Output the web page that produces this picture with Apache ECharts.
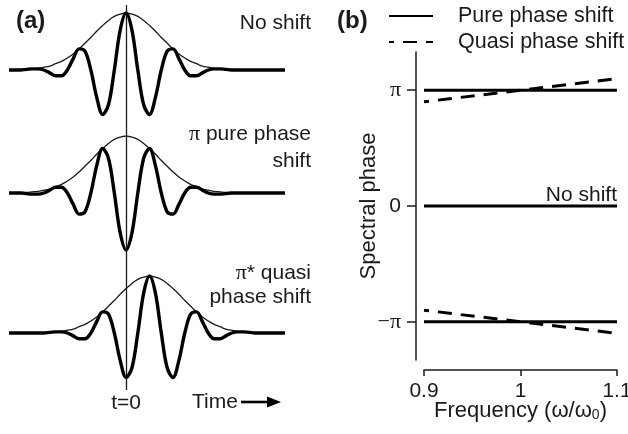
<!DOCTYPE html>
<html><head><meta charset="utf-8">
<script src="https://cdn.jsdelivr.net/npm/echarts@6/dist/echarts.min.js"></script>
<style>html,body{margin:0;padding:0;background:#fff}#c{width:628px;height:434px}</style>
</head><body><div id="c"></div>
<script>
// ---------- Panel (a): wave packets, time in optical cycles ----------
const timeCycles = [-2.5,-2.375,-2.25,-2.125,-2,-1.875,-1.75,-1.625,-1.5,-1.375,-1.25,-1.125,-1,-0.875,-0.75,-0.625,-0.5,-0.375,-0.25,-0.125,
  0,
  0.125,0.25,0.375,0.5,0.625,0.75,0.875,1,1.125,1.25,1.375,1.5,1.625,1.75,1.875,2,2.125,2.25,2.375,2.5,2.625,2.75,2.875,3,3.125,3.25,3.375,3.5];
const noShiftWave = [0,0,0,0.01,0.02,0.02,0,-0.05,-0.1,-0.1,0,0.2,0.37,0.33,0,-0.48,-0.78,-0.61,0,0.7,
  1,
  0.7,0,-0.61,-0.78,-0.48,0,0.33,0.37,0.2,0,-0.1,-0.1,-0.05,0,0.02,0.02,0.01,0,0,0,0,0,0,0,0,0,0,0];
const noShiftEnvelope = [0,0,0.01,0.01,0.02,0.03,0.05,0.07,0.11,0.15,0.21,0.28,0.37,0.47,0.57,0.68,0.78,0.87,0.94,0.98,
  1,
  0.98,0.94,0.87,0.78,0.68,0.57,0.47,0.37,0.28,0.21,0.15,0.11,0.07,0.05,0.03,0.02,0.01,0.01,0,0,0,0,0,0,0,0,0,0];
const pureShiftWave = [0,0,0,-0.01,-0.02,-0.02,0,0.05,0.1,0.1,0,-0.2,-0.37,-0.33,0,0.48,0.78,0.61,0,-0.7,
  -1,
  -0.7,0,0.61,0.78,0.48,0,-0.33,-0.37,-0.2,0,0.1,0.1,0.05,0,-0.02,-0.02,-0.01,0,0,0,0,0,0,0,0,0,0,0];
const pureShiftEnvelope = noShiftEnvelope;
const quasiShiftWave = [0,0,0,0,0,0,0,0.01,0.02,0.02,0,-0.05,-0.1,-0.1,0,0.2,0.37,0.33,0,-0.48,
  -0.78,
  -0.61,0,0.7,1,0.7,0,-0.61,-0.78,-0.48,0,0.33,0.37,0.2,0,-0.1,-0.1,-0.05,0,0.02,0.02,0.01,0,0,0,0,0,0,0];
const quasiShiftEnvelope = [0,0,0,0,0,0,0.01,0.01,0.02,0.03,0.05,0.07,0.11,0.15,0.21,0.28,0.37,0.47,0.57,0.68,
  0.78,
  0.87,0.94,0.98,1,0.98,0.94,0.87,0.78,0.68,0.57,0.47,0.37,0.28,0.21,0.15,0.11,0.07,0.05,0.03,0.02,0.01,0.01,0,0,0,0,0,0];
const timeZero = 0;
const timeZeroLabel = 't=0';
const timeAxisLabel = 'Time';

// ---------- Panel (b): spectral phase (units of π) ----------
const freqRange = [0.9, 1.1];
const freqTicks = [0.9, 1, 1.1];
const freqTickLabels = ['0.9', '1', '1.1'];
const phaseTicks = [-1, 0, 1];
const phaseTickLabels = ['−π', '0', 'π'];
const purePhasePlus = [1, 1];
const purePhaseMinus = [-1, -1];
const noShiftPhase = [0, 0];
const quasiPhasePlus = [0.9, 1.1];
const quasiPhaseMinus = [-0.9, -1.1];
const seriesNames = ['Pure phase shift', 'Quasi phase shift', 'No shift'];

// ---------- styling ----------
const INK = '#1a1a1a';
const SANS = '"Liberation Sans", Arial, Helvetica, sans-serif';
const SERIF = '"Liberation Serif", "DejaVu Serif", serif';
const FS = 21;

const chart = echarts.init(document.getElementById('c'), null, {renderer: 'canvas'});

const pairs = (xs, ys) => xs.map((x, i) => [x, ys[i]]);
const T_MIN = -2.45, T_MAX = 3.32;

const aGrids = [
  {left: 11, width: 271, top: 13, height: 114},
  {left: 11, width: 271, top: 136, height: 114},
  {left: 11, width: 271, top: 276, height: 114},
  {left: 11, width: 271, top: 5, height: 385}
];
const bGrid = {left: 424, width: 193, top: 52, height: 308};
const grids = aGrids.concat([bGrid]).map(g => Object.assign({outerBoundsMode: 'none', containLabel: false}, g));

const xAxes = [], yAxes = [];
for (let i = 0; i < 4; i++) {
  xAxes.push({type: 'value', gridIndex: i, min: T_MIN, max: T_MAX, show: false});
  yAxes.push({type: 'value', gridIndex: i, min: i < 3 ? -1 : 0, max: 1, show: false});
}
xAxes.push({
  type: 'value', gridIndex: 4, min: freqRange[0], max: freqRange[1], offset: 10,
  axisLine: {show: true, onZero: false, lineStyle: {color: INK, width: 1.5}},
  axisTick: {show: true, length: 6, customValues: freqTicks, lineStyle: {color: INK, width: 1.5}},
  axisLabel: {customValues: freqTicks, margin: 11, color: INK, fontSize: FS, fontFamily: SANS, hideOverlap: false,
    formatter: v => { const k = freqTicks.findIndex(t => Math.abs(t - v) < 1e-9); return k >= 0 ? freqTickLabels[k] : ''; }},
  splitLine: {show: false},
  name: '{a|Frequency (ω/ω}{s|0}{a|)}', nameLocation: 'middle', nameGap: 30, nameMoveOverlap: false,
  nameTextStyle: {rich: {a: {fontSize: 22, fontFamily: SANS, color: INK}, s: {fontSize: 14, fontFamily: SANS, color: INK, verticalAlign: 'bottom', padding: [8, 0, 0, 0]}}}
});
yAxes.push({
  type: 'value', gridIndex: 4, min: -1.33, max: 1.33, offset: 8,
  axisLine: {show: true, onZero: false, lineStyle: {color: INK, width: 1.5}},
  axisTick: {show: true, length: 9, customValues: phaseTicks, lineStyle: {color: INK, width: 1.5}},
  axisLabel: {customValues: phaseTicks, margin: 15, color: INK, fontSize: FS, fontFamily: SANS,
    formatter: v => { const k = phaseTicks.indexOf(v); if (k < 0) return ''; const s = phaseTickLabels[k]; return s.indexOf('π') >= 0 ? '{p|' + s + '}' : s; },
    rich: {p: {fontSize: 22, fontFamily: SERIF, color: INK}}},
  splitLine: {show: false},
  name: 'Spectral phase', nameLocation: 'middle', nameGap: 36, nameMoveOverlap: false,
  nameTextStyle: {fontSize: 22, fontFamily: SANS, color: INK}
});

const series = [];
const packets = [
  [noShiftEnvelope, noShiftWave],
  [pureShiftEnvelope, pureShiftWave],
  [quasiShiftEnvelope, quasiShiftWave]
];
packets.forEach(([env, wave], i) => {
  series.push({type: 'line', xAxisIndex: i, yAxisIndex: i, data: pairs(timeCycles, env), smooth: 0.35,
    symbol: 'none', silent: true, lineStyle: {color: INK, width: 1.3}, itemStyle: {color: INK}});
  series.push({type: 'line', xAxisIndex: i, yAxisIndex: i, data: pairs(timeCycles, wave), smooth: 0.35,
    symbol: 'none', silent: true, lineStyle: {color: '#000', width: 3.4, join: 'round'}, itemStyle: {color: '#000'}});
});
// t = 0 reference line
series.push({type: 'line', xAxisIndex: 3, yAxisIndex: 3, data: [], symbol: 'none', silent: true,
  markLine: {silent: true, symbol: ['none', 'none'], animation: false,
    lineStyle: {color: INK, width: 1.3, type: 'solid'},
    label: {show: true, position: 'start', distance: 3, formatter: timeZeroLabel, color: INK, fontSize: FS, fontFamily: SANS},
    data: [{xAxis: timeZero}]}});

// Panel (b)
const lineB = (name, vals, dashed, extra) => Object.assign({
  type: 'line', name, xAxisIndex: 4, yAxisIndex: 4, data: pairs(freqRange, vals), symbol: 'none', silent: true,
  itemStyle: {color: '#000'},
  lineStyle: {color: '#000', width: 3, type: dashed ? [14, 9] : 'solid', dashOffset: dashed ? 9 : 0}
}, extra || {});
series.push(lineB(seriesNames[0], purePhasePlus, false));
series.push(lineB(seriesNames[0], purePhaseMinus, false));
series.push(lineB(seriesNames[2], noShiftPhase, false, {
  endLabel: {show: true, formatter: seriesNames[2], align: 'right', verticalAlign: 'bottom', distance: 0, offset: [0, 0],
    color: INK, fontSize: FS, fontFamily: SANS}
}));
series.push(lineB(seriesNames[1], quasiPhasePlus, true));
series.push(lineB(seriesNames[1], quasiPhaseMinus, true));

const txt = (text, x, y, align, extra) => ({
  type: 'text', silent: true,
  style: Object.assign({text, x, y, align, verticalAlign: 'middle', fill: INK, fontSize: FS, fontFamily: SANS,
    rich: {p: {fontSize: 22, fontFamily: SERIF, fill: INK}}}, extra || {})
});

chart.setOption({
  animation: false,
  backgroundColor: '#fff',
  grid: grids,
  xAxis: xAxes,
  yAxis: yAxes,
  legend: {
    data: [seriesNames[0], seriesNames[1]], orient: 'vertical', left: 388, top: 5, padding: 0,
    itemWidth: 44, itemHeight: 14, itemGap: 4, selectedMode: false,
    itemStyle: {opacity: 0},
    lineStyle: {dashOffset: 9},
    textStyle: {fontSize: 21.5, fontFamily: SANS, color: INK, padding: [0, 0, 0, 20]}
  },
  graphic: [
    txt('(a)', 16, 21, 'left', {fontSize: 24, fontWeight: 'bold'}),
    txt('(b)', 337, 21, 'left', {fontSize: 24, fontWeight: 'bold'}),
    txt('No shift', 311, 23, 'right'),
    txt('{p|π} pure phase\nshift', 311, 148, 'right', {lineHeight: 27}),
    txt('{p|π}* quasi\nphase shift', 311, 285, 'right', {lineHeight: 24}),
    txt(timeAxisLabel, 192, 402, 'left'),
    {type: 'line', silent: true, shape: {x1: 241, y1: 402, x2: 270, y2: 402}, style: {stroke: '#000', lineWidth: 2.6}},
    {type: 'polygon', silent: true, shape: {points: [[267, 396.5], [281, 402], [267, 407.5]]}, style: {fill: '#000'}}
  ],
  series
});
</script></body></html>
